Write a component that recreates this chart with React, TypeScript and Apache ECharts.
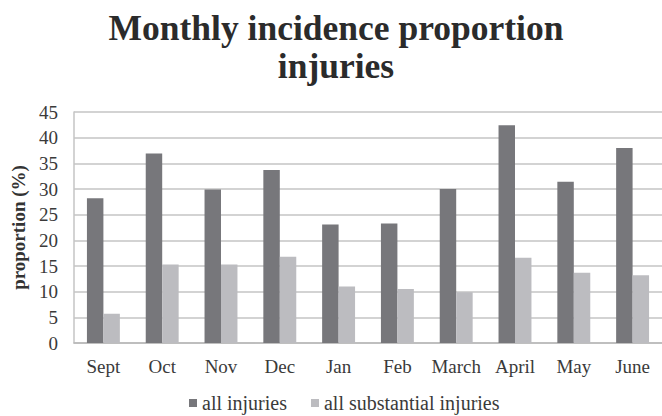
import React, { useEffect, useRef } from "react";
import * as echarts from "echarts";

const categories = ["Sept", "Oct", "Nov", "Dec", "Jan", "Feb", "March", "April", "May", "June"];
const allInjuries = [28.2, 36.9, 29.9, 33.7, 23.1, 23.3, 30.0, 42.4, 31.4, 38.0];
const substantialInjuries = [5.7, 15.3, 15.3, 16.8, 11.0, 10.5, 9.9, 16.6, 13.7, 13.2];
const seriesNames = ["all injuries", "all substantial injuries"];
const yTicks = { min: 0, max: 45, interval: 5 };

const SERIF = "Liberation Serif";

export default function App() {
  const ref = useRef<HTMLDivElement>(null);
  useEffect(() => {
    if (!ref.current) return;
    const chart = echarts.init(ref.current, undefined, { renderer: "svg" });
    chart.setOption({
      animation: false,
      backgroundColor: "#ffffff",
      textStyle: { fontFamily: SERIF },
      title: {
        text: "Monthly incidence proportion\ninjuries",
        left: 331,
        textAlign: "center",
        top: 4,
        textStyle: {
          fontFamily: SERIF,
          fontWeight: "bold",
          fontSize: 35.5,
          lineHeight: 38,
          color: "#2b2b2b",
        },
      },
      legend: {
        bottom: -2,
        left: 184,
        itemWidth: 8,
        itemHeight: 8,
        itemGap: 24,
        icon: "rect",
        textStyle: { fontFamily: SERIF, fontSize: 20, color: "#3a3a3a" },
        data: seriesNames,
      },
      grid: { left: 74, right: -4, top: 112, bottom: 73 },
      xAxis: {
        type: "category",
        data: categories,
        axisLine: { lineStyle: { color: "#b8b8b8", width: 1.5 } },
        axisTick: { show: false },
        axisLabel: { interval: 0, fontFamily: SERIF, fontSize: 19, color: "#3a3a3a", margin: 14 },
      },
      yAxis: {
        type: "value",
        min: yTicks.min,
        max: yTicks.max,
        interval: yTicks.interval,
        name: "proportion (%)",
        nameLocation: "middle",
        nameGap: 40,
        nameTextStyle: { fontFamily: SERIF, fontSize: 19, fontWeight: "bold", color: "#333" },
        axisLine: { show: true, lineStyle: { color: "#c4c4c4", width: 1.5 } },
        axisTick: { show: false },
        axisLabel: { fontFamily: SERIF, fontSize: 19, color: "#3a3a3a", margin: 16 },
        splitLine: { lineStyle: { color: "#c4c4c4", width: 1.5 } },
      },
      series: [
        {
          name: seriesNames[0],
          type: "bar",
          data: allInjuries,
          barGap: "0%",
          barCategoryGap: "44%",
          itemStyle: { color: "#77777b" },
        },
        {
          name: seriesNames[1],
          type: "bar",
          data: substantialInjuries,
          itemStyle: { color: "#bcbcc0" },
        },
      ],
    });
    return () => chart.dispose();
  }, []);
  return <div ref={ref} style={{ width: 662, height: 416, position: "absolute", left: 0, top: 0 }} />;
}
